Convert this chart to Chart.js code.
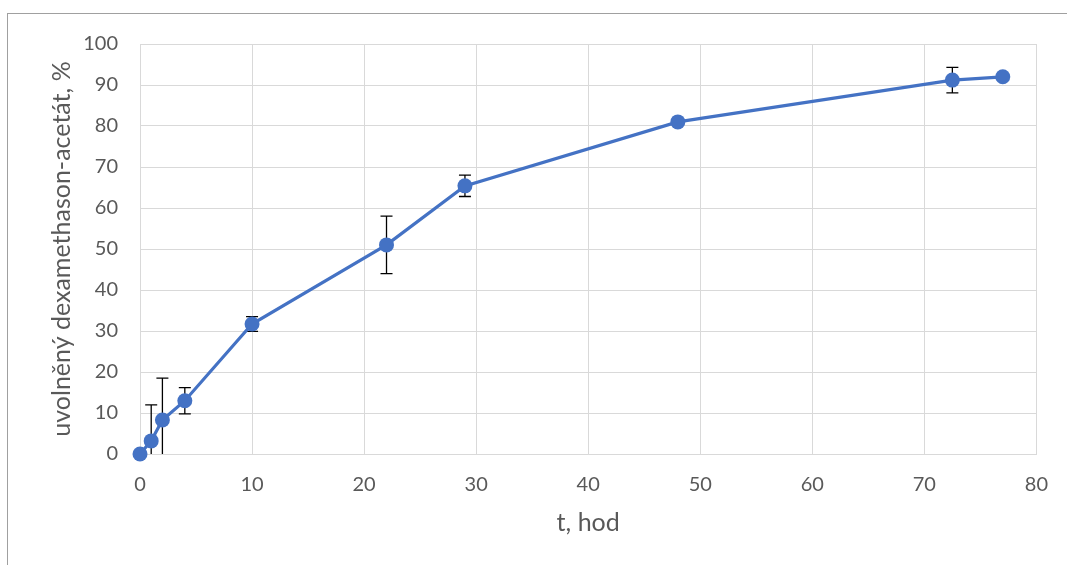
<!DOCTYPE html>
<html>
<head>
<meta charset="utf-8">
<script src="https://cdn.jsdelivr.net/npm/chart.js@4/dist/chart.umd.min.js"></script>
<style>
  html, body { margin: 0; padding: 0; background: #fff; }
  #wrap { position: relative; width: 1067px; height: 565px; overflow: hidden; }
  #frame { position: absolute; left: 7px; top: 13px; width: 2000px; height: 2000px;
           border-top: 1px solid #a0a0a0; border-left: 1px solid #a0a0a0; pointer-events: none; }
  canvas { position: absolute; left: 0; top: 0; }
</style>
</head>
<body>
<div id="wrap">
  <canvas id="c" width="1067" height="565"></canvas>
  <div id="frame"></div>
</div>
<script>
// time, hours
const hours = [0, 1, 2, 4, 10, 22, 29, 48, 72.5, 77];
// released dexamethasone acetate, %
const released = [0, 3.2, 8.3, 13.0, 31.7, 51.0, 65.4, 81.0, 91.2, 92.0];
// error bar half-lengths, %
const errors = [0, 8.8, 10.2, 3.2, 1.8, 7.0, 2.6, 0, 3.1, 0];

const xTitle = 't, hod';
const yTitle = 'uvolněný dexamethason-acetát, %';

const FONT = "Lato, 'Open Sans', sans-serif";
const TXT = '#595959';
const GRID = '#d9d9d9';

const points = hours.map((h, i) => ({ x: h, y: released[i] }));

const errorBars = {
  id: 'errorBars',
  beforeDatasetsDraw(chart) {
    const { ctx, chartArea, scales: { x, y } } = chart;
    ctx.save();
    ctx.beginPath();
    ctx.rect(chartArea.left, chartArea.top - 10, chartArea.right - chartArea.left, chartArea.bottom - chartArea.top + 10);
    ctx.clip();
    ctx.strokeStyle = '#000';
    ctx.lineWidth = 1.3;
    const cap = 6;
    hours.forEach((h, i) => {
      const e = errors[i];
      if (!e) return;
      const px = x.getPixelForValue(h);
      const top = y.getPixelForValue(released[i] + e);
      const lowVal = released[i] - e;
      const bot = y.getPixelForValue(Math.max(lowVal, 0));
      ctx.beginPath();
      ctx.moveTo(px, top);
      ctx.lineTo(px, bot);
      ctx.moveTo(px - cap, top);
      ctx.lineTo(px + cap, top);
      if (lowVal >= 0) {
        ctx.moveTo(px - cap, bot);
        ctx.lineTo(px + cap, bot);
      }
      ctx.stroke();
    });
    ctx.restore();
  }
};

new Chart(document.getElementById('c'), {
  type: 'scatter',
  data: {
    datasets: [{
      data: points,
      showLine: true,
      borderColor: '#4472C4',
      backgroundColor: '#4472C4',
      borderWidth: 3.2,
      pointRadius: 7.5,
      pointHoverRadius: 7.5,
      pointBorderWidth: 0,
      tension: 0,
      clip: false
    }]
  },
  options: {
    responsive: false,
    animation: false,
    events: [],
    layout: { padding: { left: 0, top: 44, right: 30, bottom: 0 } },
    plugins: { legend: { display: false }, tooltip: { enabled: false } },
    scales: {
      x: {
        type: 'linear',
        min: 0, max: 80,
        border: { display: true, color: GRID, width: 1 },
        grid: { color: GRID, lineWidth: 1, drawTicks: false },
        ticks: { stepSize: 10, color: TXT, font: { family: FONT, size: 20 }, padding: 19, maxRotation: 0 },
        title: { display: true, text: xTitle, color: TXT, font: { family: FONT, size: 25 }, padding: { top: 0, bottom: 27 } },
        afterFit(s) { s.height = 111; }
      },
      y: {
        min: 0, max: 100,
        border: { display: true, color: GRID, width: 1 },
        grid: { color: GRID, lineWidth: 1, drawTicks: false },
        ticks: { stepSize: 10, color: TXT, font: { family: FONT, size: 20 }, padding: 22 },
        title: { display: true, text: yTitle, color: TXT, font: { family: FONT, size: 25 }, padding: { top: 47, bottom: 0 } },
        afterFit(s) { s.width = 140; }
      }
    }
  },
  plugins: [errorBars]
});
</script>
</body>
</html>
